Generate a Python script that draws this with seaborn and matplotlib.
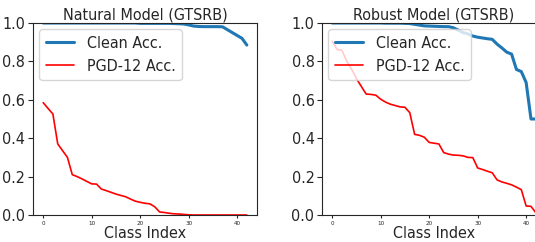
import numpy as np
import pandas as pd
import matplotlib
matplotlib.use("Agg")
import matplotlib.pyplot as plt
import seaborn as sns

# per-class accuracy, classes sorted by accuracy (GTSRB, 43 classes)
class_idx = list(range(43))

natural_clean = [1.0] * 20 + [0.998, 0.998, 0.998, 0.998, 0.998, 0.998, 0.998,
                              0.997, 0.996, 0.995, 0.99, 0.984, 0.982, 0.981,
                              0.981, 0.981, 0.981, 0.98, 0.965, 0.95, 0.935,
                              0.92, 0.885]
natural_pgd = [0.585, 0.555, 0.526, 0.37, 0.335, 0.30, 0.21, 0.20, 0.188, 0.175,
               0.162, 0.161, 0.135, 0.127, 0.118, 0.109, 0.102, 0.095, 0.083,
               0.072, 0.066, 0.061, 0.058, 0.043, 0.016, 0.013, 0.009, 0.006,
               0.005, 0.003, 0.001] + [0.0] * 12

robust_clean = [1.0] * 11 + [0.999, 0.999, 0.999, 0.999, 0.998, 0.997, 0.993,
                             0.989, 0.985, 0.984, 0.983, 0.982, 0.981, 0.981,
                             0.975, 0.963, 0.95, 0.943, 0.932, 0.926, 0.922,
                             0.918, 0.915, 0.89, 0.87, 0.848, 0.838, 0.758,
                             0.747, 0.69, 0.50, 0.50]
robust_pgd = [0.905, 0.862, 0.858, 0.80, 0.76, 0.71, 0.67, 0.63, 0.628, 0.624,
              0.603, 0.588, 0.577, 0.57, 0.563, 0.561, 0.533, 0.42, 0.415, 0.405,
              0.378, 0.374, 0.37, 0.325, 0.317, 0.312, 0.311, 0.308, 0.30, 0.299,
              0.245, 0.237, 0.228, 0.22, 0.183, 0.172, 0.165, 0.157, 0.145,
              0.132, 0.047, 0.045, 0.012]

titles = ["Natural Model (GTSRB)", "Robust Model (GTSRB)"]

sns.set_style("ticks")
plt.rcParams['font.family'] = ['DejaVu Sans']
plt.rcParams['font.stretch'] = 'condensed'

fig = plt.figure(figsize=(5.35, 2.42), dpi=100)
ax1 = fig.add_axes([0.0617, 0.1116, 0.4187, 0.7934])
ax2 = fig.add_axes([0.6019, 0.1116, 0.4187, 0.7934])

for ax, clean, pgd, title in [(ax1, natural_clean, natural_pgd, titles[0]),
                              (ax2, robust_clean, robust_pgd, titles[1])]:
    df = pd.DataFrame({"Class": class_idx, "Clean": clean, "PGD": pgd})
    sns.lineplot(data=df, x="Class", y="Clean", ax=ax, color="#1f77b4",
                 linewidth=2.2, label="Clean Acc.")
    sns.lineplot(data=df, x="Class", y="PGD", ax=ax, color="red",
                 linewidth=1.2, label="PGD-12 Acc.")
    ax.set_ylim(0, 1.0)
    ax.set_xlim(-2.1, 44.1)
    ax.set_xticks([0, 10, 20, 30, 40])
    ax.tick_params(axis='x', labelsize=4.5, length=2.5, pad=2)
    ax.tick_params(axis='y', labelsize=11.5, length=3.5, pad=2)
    ax.set_title(title, fontsize=11.5, pad=2)
    ax.set_xlabel("Class Index", fontsize=11.5, labelpad=0)
    ax.set_ylabel("")
    ax.legend(loc="upper left", fontsize=11.5, handlelength=1.75,
              borderaxespad=0.4)

fig.savefig("out.png", dpi=100)
